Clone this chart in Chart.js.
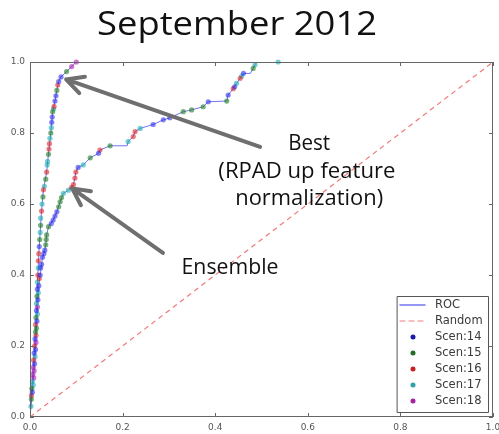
<!DOCTYPE html>
<html>
<head>
<meta charset="utf-8">
<script src="https://cdn.jsdelivr.net/npm/chart.js@4/dist/chart.umd.min.js"></script>
<style>
  html, body { margin: 0; padding: 0; background: #fff; }
  #wrap { width: 499px; height: 434px; position: relative; }
</style>
</head>
<body>
<div id="wrap"><canvas id="roc"></canvas></div>
<script>
// ---- data -------------------------------------------------------------
const chartTitle = 'September 2012';
const tickValues = [0.0, 0.2, 0.4, 0.6, 0.8, 1.0];

// ROC curve of the best model (RPAD up feature normalization)
const bestFpr = [0, 0.010, 0.014, 0.017, 0.019, 0.022, 0.025, 0.029, 0.036, 0.041, 0.045, 0.049, 0.054, 0.058, 0.062, 0.067, 0.079, 0.090, 0.100, 1.0];
const bestTpr = [0, 0.20, 0.30, 0.40, 0.46, 0.52, 0.58, 0.64, 0.69, 0.755, 0.80, 0.86, 0.89, 0.92, 0.945, 0.958, 0.973, 0.987, 1.0, 1.0];

// ROC curve of the ensemble
const ensFpr = [0, 0.005, 0.010, 0.013, 0.016, 0.019, 0.022, 0.027, 0.032, 0.034, 0.036, 0.040, 0.050, 0.058, 0.065, 0.072, 0.083, 0.094, 0.097, 0.099, 0.104, 0.115, 0.130, 0.148, 0.151, 0.173, 0.210, 0.212, 0.223, 0.227, 0.238, 0.266, 0.288, 0.302, 0.331, 0.349, 0.374, 0.385, 0.425, 0.428, 0.439, 0.446, 0.454, 0.461, 0.476, 0.482, 0.486, 0.490, 1.0];
const ensTpr = [0, 0.07, 0.15, 0.22, 0.30, 0.37, 0.40, 0.45, 0.47, 0.485, 0.513, 0.536, 0.555, 0.578, 0.606, 0.63, 0.639, 0.655, 0.673, 0.69, 0.703, 0.71, 0.73, 0.743, 0.752, 0.764, 0.764, 0.776, 0.79, 0.804, 0.813, 0.824, 0.837, 0.843, 0.86, 0.865, 0.874, 0.888, 0.89, 0.907, 0.925, 0.94, 0.954, 0.968, 0.968, 0.982, 0.992, 1.0, 1.0];

// chance diagonal
const randomFpr = [0, 1];
const randomTpr = [0, 1];

// operating points of each scenario, [fpr, tpr]
const scen14 = [
  [0.009, 0.18], [0.011, 0.22], [0.014, 0.30], [0.016, 0.36], [0.020, 0.48], [0.047, 0.83], [0.048, 0.845], [0.054, 0.89], [0.056, 0.905], [0.062, 0.945], [0.067, 0.958],
  [0.005, 0.07], [0.010, 0.15], [0.012, 0.19], [0.015, 0.27], [0.017, 0.33], [0.019, 0.37], [0.022, 0.40], [0.023, 0.42], [0.025, 0.43], [0.027, 0.45], [0.030, 0.46], [0.032, 0.47],
  [0.046, 0.545], [0.050, 0.555], [0.054, 0.566], [0.058, 0.578], [0.104, 0.703], [0.148, 0.743], [0.266, 0.824], [0.288, 0.837], [0.302, 0.843], [0.385, 0.888], [0.428, 0.907], [0.442, 0.93], [0.461, 0.968]
];
const scen15 = [
  [0.004, 0.08], [0.012, 0.24], [0.013, 0.28], [0.015, 0.34], [0.021, 0.50], [0.023, 0.54], [0.028, 0.62], [0.034, 0.67], [0.040, 0.74], [0.045, 0.80], [0.049, 0.86], [0.058, 0.92], [0.079, 0.973],
  [0.003, 0.05], [0.014, 0.25], [0.034, 0.485], [0.035, 0.50], [0.036, 0.513], [0.040, 0.536], [0.062, 0.592], [0.065, 0.606], [0.068, 0.618], [0.130, 0.73], [0.173, 0.764],
  [0.331, 0.86], [0.349, 0.865], [0.374, 0.874], [0.425, 0.89], [0.482, 0.982]
];
const scen16 = [
  [0.003, 0.06], [0.008, 0.16], [0.010, 0.20], [0.012, 0.26], [0.017, 0.40], [0.018, 0.44], [0.019, 0.46], [0.025, 0.58], [0.029, 0.64], [0.036, 0.69], [0.041, 0.755], [0.042, 0.77], [0.052, 0.875], [0.060, 0.935],
  [0.013, 0.23], [0.020, 0.39], [0.090, 0.647], [0.094, 0.655], [0.097, 0.673], [0.099, 0.69], [0.151, 0.752], [0.223, 0.79], [0.227, 0.804], [0.439, 0.925], [0.454, 0.954]
];
const scen17 = [
  [0.002, 0.03], [0.005, 0.10], [0.014, 0.32], [0.016, 0.38], [0.018, 0.42], [0.022, 0.52], [0.023, 0.56], [0.026, 0.60], [0.031, 0.65], [0.037, 0.71], [0.038, 0.72], [0.043, 0.785], [0.046, 0.815], [0.051, 0.868],
  [0.007, 0.09], [0.011, 0.17], [0.016, 0.29], [0.018, 0.35], [0.072, 0.63], [0.083, 0.639], [0.115, 0.71], [0.212, 0.776], [0.238, 0.813], [0.446, 0.94], [0.457, 0.96], [0.486, 0.992], [0.536, 1.0]
];
const scen18 = [
  [0.006, 0.12], [0.007, 0.14], [0.090, 0.987], [0.100, 1.0],
  [0.008, 0.11], [0.009, 0.13], [0.013, 0.21], [0.016, 0.31]
];
const scenNames = ['Scen:14', 'Scen:15', 'Scen:16', 'Scen:17', 'Scen:18'];

// ---- styling ------------------------------------------------------------
const scenDotColors = ['rgba(40,40,230,0.58)', 'rgba(20,120,20,0.58)', 'rgba(220,30,30,0.58)', 'rgba(20,170,170,0.58)', 'rgba(170,20,170,0.58)'];
const scenKeyColors = ['#1a1aa8', '#256b25', '#c42222', '#2ea3a3', '#a422a4'];
const rocColor = 'rgba(90,90,240,0.85)';
const randomColor = '#f07a7a';
const frameColor = '#666';
const textFont = '"Open Sans", "DejaVu Sans", sans-serif';

// annotation text, anchored in data units (centre x, baseline y)
const noteText = [
  { text: 'Best',             x: 0.603, y: 0.752, width: 42 },
  { text: '(RPAD up feature', x: 0.598, y: 0.672, width: 177 },
  { text: 'normalization)',   x: 0.603, y: 0.597, width: 148 },
  { text: 'Ensemble',         x: 0.432, y: 0.403, width: 97 }
];
const noteArrows = [
  { from: [0.497, 0.761], to: [0.078, 0.951] },
  { from: [0.287, 0.462], to: [0.091, 0.644] }
];

const zip = (xs, ys) => xs.map((x, i) => ({ x, y: ys[i] }));
const pts = arr => arr.map(p => ({ x: p[0], y: p[1] }));
const scenData = [scen14, scen15, scen16, scen17, scen18];

function drawFitted(ctx, text, cx, baseline, size, width) {
  ctx.save();
  ctx.font = size + 'px ' + textFont;
  const w = ctx.measureText(text).width;
  ctx.translate(cx, baseline);
  ctx.scale(width / w, 1);
  ctx.textAlign = 'center';
  ctx.textBaseline = 'alphabetic';
  ctx.fillStyle = '#111';
  ctx.fillText(text, 0, 0);
  ctx.restore();
}

const decorations = {
  id: 'decorations',
  afterDatasetsDraw(chart) {
    const { ctx, chartArea: a, scales: { x, y } } = chart;
    ctx.save();
    // frame
    ctx.strokeStyle = frameColor;
    ctx.lineWidth = 1;
    ctx.strokeRect(a.left + 0.5, a.top + 0.5, a.right - a.left - 1, a.bottom - a.top - 1);
    // inward tick marks on all four sides
    ctx.beginPath();
    tickValues.forEach(v => {
      const px = Math.round(x.getPixelForValue(v)) + 0.5;
      const py = Math.round(y.getPixelForValue(v)) + 0.5;
      ctx.moveTo(px, a.bottom); ctx.lineTo(px, a.bottom - 4);
      ctx.moveTo(px, a.top); ctx.lineTo(px, a.top + 4);
      ctx.moveTo(a.left, py); ctx.lineTo(a.left + 4, py);
      ctx.moveTo(a.right, py); ctx.lineTo(a.right - 4, py);
    });
    ctx.stroke();

    // arrows
    ctx.strokeStyle = '#6f6f6f';
    ctx.lineWidth = 4;
    ctx.lineCap = 'round';
    ctx.lineJoin = 'round';
    noteArrows.forEach(ar => {
      const x0 = x.getPixelForValue(ar.from[0]), y0 = y.getPixelForValue(ar.from[1]);
      const x1 = x.getPixelForValue(ar.to[0]), y1 = y.getPixelForValue(ar.to[1]);
      const ang = Math.atan2(y0 - y1, x0 - x1);
      const len = 19, spread = 27 * Math.PI / 180;
      ctx.beginPath();
      ctx.moveTo(x0, y0); ctx.lineTo(x1, y1);
      ctx.moveTo(x1 + len * Math.cos(ang - spread), y1 + len * Math.sin(ang - spread));
      ctx.lineTo(x1, y1);
      ctx.lineTo(x1 + len * Math.cos(ang + spread), y1 + len * Math.sin(ang + spread));
      ctx.stroke();
    });

    // annotation text
    noteText.forEach(n => drawFitted(ctx, n.text, x.getPixelForValue(n.x), y.getPixelForValue(n.y), 22, n.width));

    // title
    drawFitted(ctx, chartTitle, 237, 35, 32, 280);

    // legend box in the lower right corner
    const bw = 91, bh = 116;
    const bx = a.right - 5 - bw, by = a.bottom - 5 - bh;
    ctx.fillStyle = '#fff';
    ctx.fillRect(bx, by, bw, bh);
    ctx.strokeStyle = '#555';
    ctx.lineWidth = 1;
    ctx.strokeRect(Math.round(bx) + 0.5, Math.round(by) + 0.5, bw, bh);
    const labels = ['ROC', 'Random'].concat(scenNames);
    ctx.font = '11.5px "DejaVu Sans", sans-serif';
    ctx.textBaseline = 'middle';
    ctx.textAlign = 'left';
    labels.forEach((lab, i) => {
      const ry = by + 9 + i * 16;
      if (i === 0) {
        ctx.strokeStyle = rocColor; ctx.lineWidth = 1.5; ctx.setLineDash([]);
        ctx.beginPath(); ctx.moveTo(bx + 3, ry); ctx.lineTo(bx + 28, ry); ctx.stroke();
      } else if (i === 1) {
        ctx.strokeStyle = randomColor; ctx.lineWidth = 1.2; ctx.setLineDash([5, 4]);
        ctx.beginPath(); ctx.moveTo(bx + 3, ry); ctx.lineTo(bx + 28, ry); ctx.stroke();
        ctx.setLineDash([]);
      } else {
        ctx.fillStyle = scenKeyColors[i - 2];
        ctx.beginPath(); ctx.arc(bx + 16, ry, 2.5, 0, Math.PI * 2); ctx.fill();
      }
      ctx.fillStyle = '#3a3a3a';
      ctx.fillText(lab, bx + 38, ry + 0.5);
    });
    ctx.restore();
  }
};

const fixedTicks = s => { s.ticks = tickValues.map(v => ({ value: v })); };

const datasets = [];
scenData.forEach((d, i) => datasets.push({
  label: scenNames[i], data: pts(d), showLine: false,
  pointRadius: 2.6, pointHoverRadius: 2.6, pointBorderWidth: 0,
  pointBackgroundColor: scenDotColors[i], pointBorderColor: scenDotColors[i],
  clip: false, order: 1
}));
datasets.push({
  label: 'ROC', data: zip(bestFpr, bestTpr), showLine: true, pointRadius: 0,
  borderColor: rocColor, borderWidth: 1, tension: 0, order: 2
});
datasets.push({
  label: 'ROC ensemble', data: zip(ensFpr, ensTpr), showLine: true, pointRadius: 0,
  borderColor: rocColor, borderWidth: 1, tension: 0, order: 2
});
datasets.push({
  label: 'Random', data: zip(randomFpr, randomTpr), showLine: true, pointRadius: 0,
  borderColor: randomColor, borderWidth: 1.2, borderDash: [5, 4], tension: 0, order: 3
});

new Chart(document.getElementById('roc'), {
  type: 'scatter',
  data: { datasets },
  options: {
    responsive: true,
    maintainAspectRatio: false,
    devicePixelRatio: 1,
    animation: false,
    layout: { padding: { top: 62, right: 6, left: 0, bottom: 0 } },
    plugins: { legend: { display: false }, tooltip: { enabled: false }, title: { display: false } },
    scales: {
      x: {
        type: 'linear', min: 0, max: 1,
        afterBuildTicks: fixedTicks,
        afterFit: s => { s.height = 17; s.paddingLeft = 0; s.paddingRight = 0; },
        grid: { display: false, drawTicks: false },
        border: { display: false },
        ticks: { callback: v => v.toFixed(1), font: { family: 'DejaVu Sans', size: 9 }, color: '#555', padding: 5, maxRotation: 0, autoSkip: false }
      },
      y: {
        type: 'linear', min: 0, max: 1,
        afterBuildTicks: fixedTicks,
        afterFit: s => { s.width = 30; s.paddingTop = 0; s.paddingBottom = 0; },
        grid: { display: false, drawTicks: false },
        border: { display: false },
        ticks: { callback: v => v.toFixed(1), font: { family: 'DejaVu Sans', size: 9 }, color: '#555', padding: 5, autoSkip: false }
      }
    }
  },
  plugins: [decorations]
});
</script>
</body>
</html>
